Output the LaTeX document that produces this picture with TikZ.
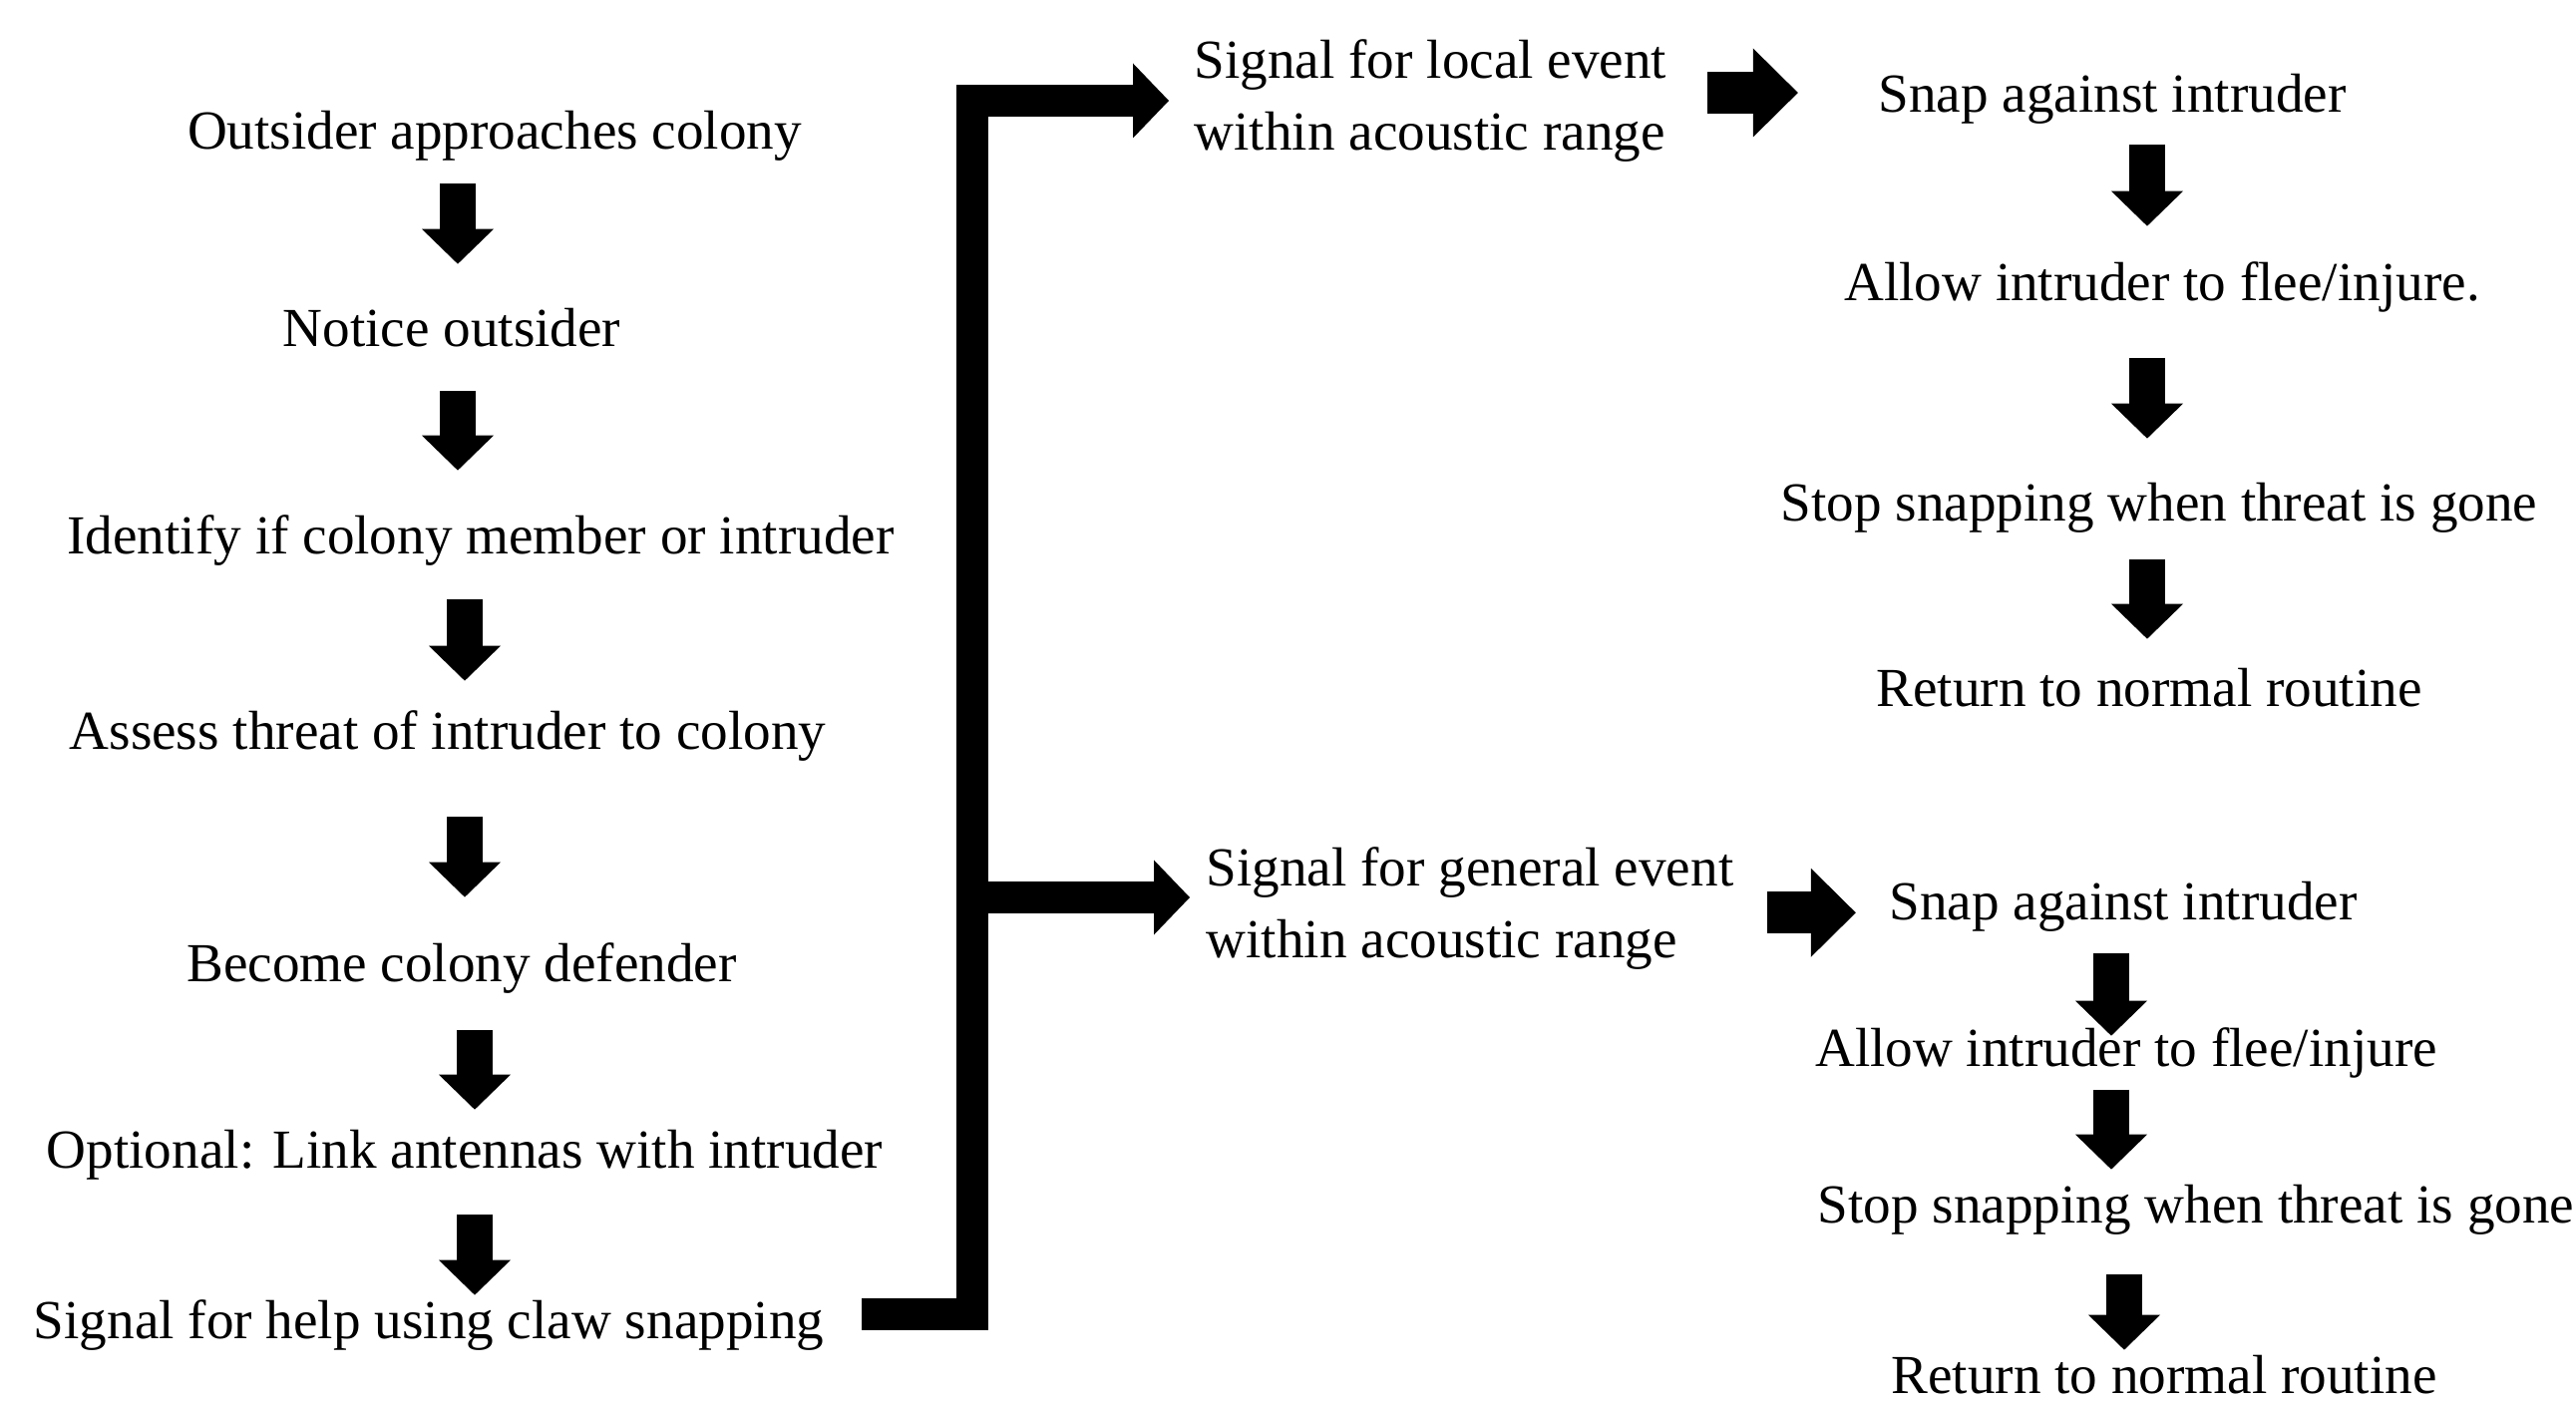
\documentclass[tikz,border=0pt]{standalone}
\usepackage{fontspec}
\setmainfont{Liberation Serif}
\usetikzlibrary{arrows.meta}

\begin{document}
\begin{tikzpicture}[
  txt/.style={inner sep=0, anchor=base, font=\fontsize{15.7}{19}\selectfont, text height=.376cm, text depth=.122cm},
  twoline/.style={inner sep=0, anchor=west, align=left, font=\fontsize{15.7}{20.4}\selectfont},
  dn/.style={line width=.36cm, -{Triangle[width=.72cm,length=.35cm,line width=0pt]}},
  rt/.style={line width=.42cm, -{Triangle[width=.89cm,length=.45cm,line width=0pt]}},
  bracket/.style={line width=.32cm, -{Triangle[width=.75cm,length=.36cm,line width=0pt]}}]
\useasboundingbox (0,0) rectangle (25.83,14.05);

% left column
\node[txt] (outsider) at (4.96,12.55) {Outsider approaches colony};
\node[txt] (notice) at (4.53,10.57) {Notice outsider};
\node[txt] (identify) at (4.82,8.49) {Identify if colony member or intruder};
\node[txt] (assess) at (4.49,6.53) {Assess threat of intruder to colony};
\node[txt] (become) at (4.63,4.21) {Become colony defender};
\node[txt] (antenna) at (4.66,2.34) {Optional: Link antennas with intruder};
\node[txt] (help) at (4.30,.63) {Signal for help using claw snapping};

\coordinate (colL1) at (4.59,0);
\coordinate (colL2) at (4.66,0);
\coordinate (colL3) at (4.76,0);
\draw[dn, shorten <=.21cm, shorten >=.45cm] (outsider.south -| colL1) -- (notice.north -| colL1);
\draw[dn, shorten <=.31cm, shorten >=.46cm] (notice.south -| colL1) -- (identify.north -| colL1);
\draw[dn, shorten <=.32cm, shorten >=.31cm] (identify.south -| colL2) -- (assess.north -| colL2);
\draw[dn, shorten <=.54cm, shorten >=.46cm] (assess.south -| colL2) -- (become.north -| colL2);
\draw[dn, shorten <=.36cm, shorten >=.20cm] (become.south -| colL3) -- (antenna.north -| colL3);
\draw[dn, shorten <=.34cm, shorten >=.05cm] (antenna.south -| colL3) -- (help.north -| colL3);

% the two signals
\node[twoline] (local) at (11.97,13.04) {Signal for local event\\within acoustic range};
\node[twoline] (general) at (12.09,4.94) {Signal for general event\\within acoustic range};

\coordinate (spine) at (9.745,5.05);
\draw[bracket, shorten <=.37cm, shorten >=.25cm] ([yshift=.11cm]help.east) -| (spine) |- (local.west);
\draw[bracket, shorten >=.16cm] (spine) -- (spine -| general.west);

% local event
\node[txt] (snapA) at (21.18,12.92) {Snap against intruder};
\node[txt] (allowA) at (21.68,11.03) {Allow intruder to flee/injure.};
\node[txt] (stopA) at (21.65,8.82) {Stop snapping when threat is gone};
\node[txt] (returnA) at (21.55,6.96) {Return to normal routine};

\coordinate (colA) at (21.53,0);
\draw[rt, shorten <=.40cm, shorten >=.80cm] ([yshift=.08cm]local.east) -- ([yshift=.08cm]local.east -| snapA.west);
\draw[dn, shorten <=.19cm, shorten >=.37cm] (snapA.south -| colA) -- (allowA.north -| colA);
\draw[dn, shorten <=.44cm, shorten >=.45cm] (allowA.south -| colA) -- (stopA.north -| colA);
\draw[dn, shorten <=.25cm, shorten >=.30cm] (stopA.south -| colA) -- (returnA.north -| colA);

% general event
\node[txt] (snapB) at (21.29,4.82) {Snap against intruder};
\node[txt] (allowB) at (21.32,3.36) {Allow intruder to flee/injure};
\node[txt] (stopB) at (22.02,1.79) {Stop snapping when threat is gone};
\node[txt] (returnB) at (21.70,.08) {Return to normal routine};

\coordinate (colB) at (21.17,0);
\coordinate (colB2) at (21.30,0);
\draw[rt, shorten <=.33cm, shorten >=.33cm] ([yshift=-.05cm]snapB.west -| general.east) -- ([yshift=-.05cm]snapB.west);
\draw[dn, shorten <=.20cm, shorten >=-.08cm] (snapB.south -| colB) -- (allowB.north -| colB);
\draw[dn, shorten <=.11cm, shorten >=.15cm] (allowB.south -| colB) -- (stopB.north -| colB);
\draw[dn, shorten <=.39cm, shorten >=.05cm] (stopB.south -| colB2) -- (returnB.north -| colB2);

\end{tikzpicture}
\end{document}
